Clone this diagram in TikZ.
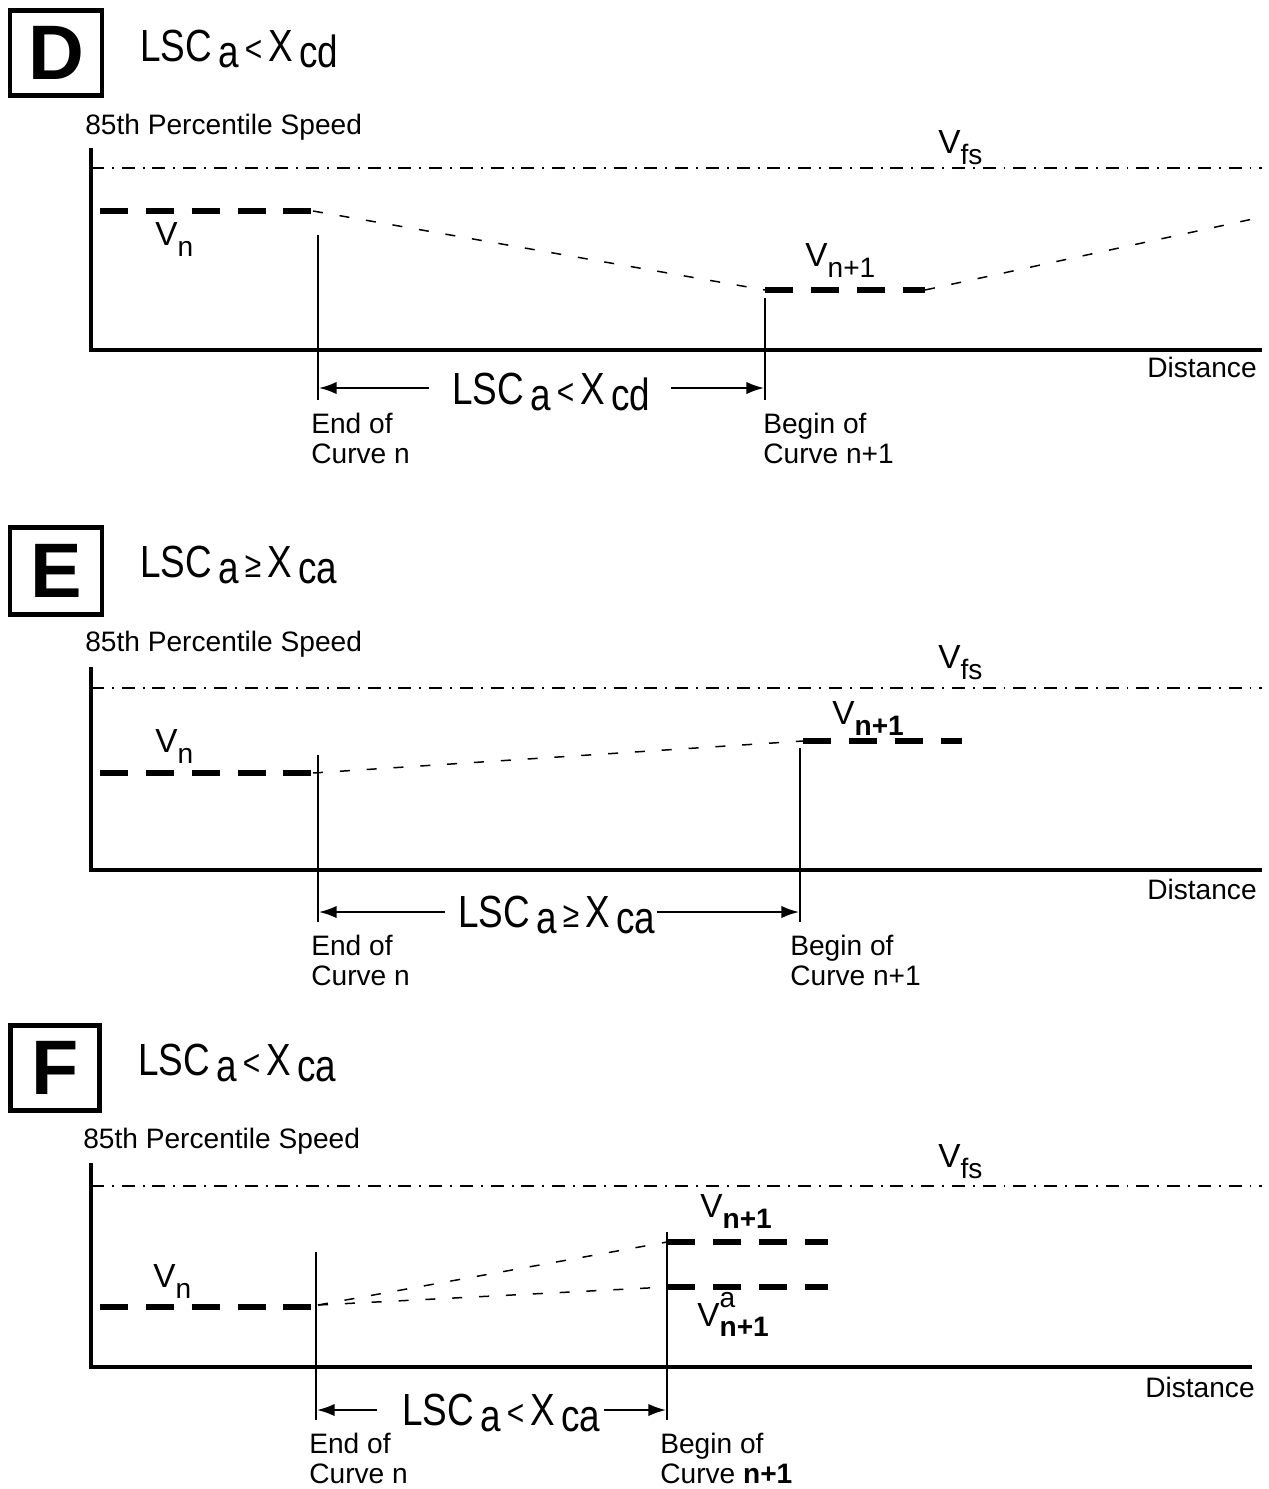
\documentclass[tikz,border=0pt]{standalone}
\usepackage{fontspec}
\usepackage{graphicx}
\setmainfont{Liberation Sans}
\usetikzlibrary{calc,arrows.meta}

\newcommand{\Vsym}[1]{{\fontsize{19}{19}\selectfont V}\raisebox{-6.8pt}{\fontsize{16}{16}\selectfont #1}}
\newcommand{\Vsupsub}[2]{{\fontsize{19}{19}\selectfont V}\rlap{\raisebox{10.8pt}{\fontsize{16}{16}\selectfont #1}}\raisebox{-6.2pt}{\fontsize{16}{16}\selectfont #2}}
\newcommand{\LSCrel}[2]{\scalebox{1}[1.22]{LSC\,\raisebox{-3.2pt}{a}\,{\fontsize{17}{17}\selectfont #1}\,X\,\raisebox{-3.2pt}{#2}}}

\tikzset{
  axis/.style={line width=2.8pt},
  thickdash/.style={line width=3.4pt,dash pattern=on 15.9pt off 10.2pt},
  thindash/.style={line width=0.85pt,dash pattern=on 5.7pt off 9.6pt},
  fsline/.style={line width=0.85pt,dash pattern=on 7.4pt off 4.5pt on 1.1pt off 4.5pt},
  marker/.style={line width=1.1pt},
  dimarrow/.style={line width=1.1pt,-{Latex[length=10pt,width=7pt]}},
  letterbox/.style={draw,line width=2.8pt,minimum width=1.84cm,minimum height=1.7cm,inner sep=0pt,font=\fontsize{44}{44}\selectfont\bfseries},
  lbl/.style={inner sep=0pt,font=\fontsize{16}{17}\selectfont},
  big/.style={inner sep=0pt,font=\fontsize{21}{21}\selectfont},
  vlab/.style={inner sep=0pt}
}

\begin{document}
\begin{tikzpicture}[x=0.02cm,y=-0.02cm]
\useasboundingbox (0,0) rectangle (1269,1489);

\node[letterbox] (dbox) at (56,53) {D};
\node[big,anchor=base west] (dtitle) at (140,61) {\LSCrel{<}{cd}};
\node[lbl,anchor=base west] (dspeed) at (85,134) {85th Percentile Speed};
\node[lbl,anchor=base east] (ddist) at (1257,377) {Distance};
\coordinate (dtop) at (91,148);
\coordinate (dorig) at (91,350);
\coordinate (dend) at (1262,350);
\draw[axis] (dtop) -- (dorig) -- (dend);
\coordinate (dfs1) at (91,168);
\coordinate (dfs2) at (1262,168);
\draw[fsline] (dfs1) -- (dfs2);
\node[vlab,anchor=base west] (dvfs) at (938,153) {\Vsym{fs}};
\coordinate (dv1) at (100,211);
\coordinate (dv2) at (313,211);
\coordinate (dw1) at (765,290);
\coordinate (dw2) at (925,290);
\coordinate (dfar) at (1262,217);
\draw[thickdash] (dv1) -- (dv2);
\draw[thindash] (dv2) -- (dw1);
\draw[thickdash] (dw1) -- (dw2);
\draw[thindash] (dw2) -- (dfar);
\node[vlab,anchor=base west] (dvn) at (155,245) {\Vsym{n}};
\node[vlab,anchor=base west] (dvn1) at (805,266) {\Vsym{n+1}};
\coordinate (dm1) at (318,235);
\coordinate (dm1b) at (318,400);
\coordinate (dm2) at (765,298);
\coordinate (dm2b) at (765,400);
\draw[marker] (dm1) -- (dm1b);
\draw[marker] (dm2) -- (dm2b);
\coordinate (dl) at (319,388);
\coordinate (dr) at (764,388);
\node[big,anchor=base west] (dlab) at (452,404) {\LSCrel{<}{cd}};
\draw[dimarrow] ($(dlab.west|-dl)+(-23,0)$) -- (dl);
\draw[dimarrow] ($(dlab.east|-dr)+(20,0)$) -- (dr);
\node[lbl,anchor=north west,align=left] (dendc) at (311,413) {End of\\Curve n};
\node[lbl,anchor=north west,align=left] (dbeg) at (763,413) {Begin of\\Curve n+1};

\node[letterbox,minimum height=1.74cm] (ebox) at (56,571) {E};
\node[big,anchor=base west] (etitle) at (140,577) {\LSCrel{≥}{ca}};
\node[lbl,anchor=base west] (espeed) at (85,651) {85th Percentile Speed};
\node[lbl,anchor=base east] (edist) at (1257,899) {Distance};
\coordinate (etop) at (91,667);
\coordinate (eorig) at (91,870);
\coordinate (eend) at (1262,870);
\draw[axis] (etop) -- (eorig) -- (eend);
\coordinate (efs1) at (91,688);
\coordinate (efs2) at (1262,688);
\draw[fsline] (efs1) -- (efs2);
\node[vlab,anchor=base west] (evfs) at (938,668) {\Vsym{fs}};
\coordinate (ev1) at (100,773);
\coordinate (ev2) at (313,773);
\coordinate (ew1) at (803,741);
\coordinate (ew2) at (962,741);
\draw[thickdash] (ev1) -- (ev2);
\draw[thindash] (ev2) -- (ew1);
\draw[thickdash] (ew1) -- (ew2);
\node[vlab,anchor=base west] (evn) at (155,752) {\Vsym{n}};
\node[vlab,anchor=base west] (evn1) at (832,724) {\Vsym{\textbf{n+1}}};
\coordinate (em1) at (318,755);
\coordinate (em1b) at (318,922);
\coordinate (em2) at (800,748);
\coordinate (em2b) at (800,922);
\draw[marker] (em1) -- (em1b);
\draw[marker] (em2) -- (em2b);
\coordinate (el) at (319,912);
\coordinate (er) at (799,912);
\node[big,anchor=base west] (elab) at (458,927) {\LSCrel{≥}{ca}};
\draw[dimarrow] ($(elab.west|-el)+(-13,0)$) -- (el);
\draw[dimarrow] ($(elab.east|-er)+(1,0)$) -- (er);
\node[lbl,anchor=north west,align=left] (eendc) at (311,935) {End of\\Curve n};
\node[lbl,anchor=north west,align=left] (ebeg) at (790,935) {Begin of\\Curve n+1};

\node[letterbox,minimum width=1.78cm] (fbox) at (55,1068) {F};
\node[big,anchor=base west] (ftitle) at (138,1075) {\LSCrel{<}{ca}};
\node[lbl,anchor=base west] (fspeed) at (83,1148) {85th Percentile Speed};
\node[lbl,anchor=base east] (fdist) at (1255,1397) {Distance};
\coordinate (ftop) at (91,1163);
\coordinate (forig) at (91,1367);
\coordinate (fend) at (1252,1367);
\draw[axis] (ftop) -- (forig) -- (fend);
\coordinate (ffs1) at (91,1186);
\coordinate (ffs2) at (1262,1186);
\draw[fsline] (ffs1) -- (ffs2);
\node[vlab,anchor=base west] (fvfs) at (938,1167) {\Vsym{fs}};
\coordinate (fv1) at (100,1307);
\coordinate (fv2) at (312,1307);
\coordinate (fs) at (318,1305);
\coordinate (fw1) at (667,1242);
\coordinate (fw2) at (828,1242);
\coordinate (fa1) at (667,1287);
\coordinate (fa2) at (828,1287);
\draw[thickdash] (fv1) -- (fv2);
\draw[thindash] (fs) -- (fw1);
\draw[thindash] (fs) -- (fa1);
\draw[thickdash] (fw1) -- (fw2);
\draw[thickdash] (fa1) -- (fa2);
\node[vlab,anchor=base west] (fvn) at (153,1287) {\Vsym{n}};
\node[vlab,anchor=base west] (fvn1) at (700,1217) {\Vsym{\textbf{n+1}}};
\node[vlab,anchor=base west] (fva) at (697,1326) {\Vsupsub{a}{\textbf{n+1}}};
\coordinate (fm1) at (316,1252);
\coordinate (fm1b) at (316,1420);
\coordinate (fm2) at (667,1232);
\coordinate (fm2b) at (667,1420);
\draw[marker] (fm1) -- (fm1b);
\draw[marker] (fm2) -- (fm2b);
\coordinate (fl) at (317,1410);
\coordinate (fr) at (666,1410);
\node[big,anchor=base west] (flab) at (402,1425) {\LSCrel{<}{ca}};
\draw[dimarrow] ($(flab.west|-fl)+(-25,0)$) -- (fl);
\draw[dimarrow] ($(flab.east|-fr)+(3,0)$) -- (fr);
\node[lbl,anchor=north west,align=left] (fendc) at (309,1433) {End of\\Curve n};
\node[lbl,anchor=north west,align=left] (fbeg) at (660,1433) {Begin of\\Curve \textbf{n+1}};
\end{tikzpicture}
\end{document}
